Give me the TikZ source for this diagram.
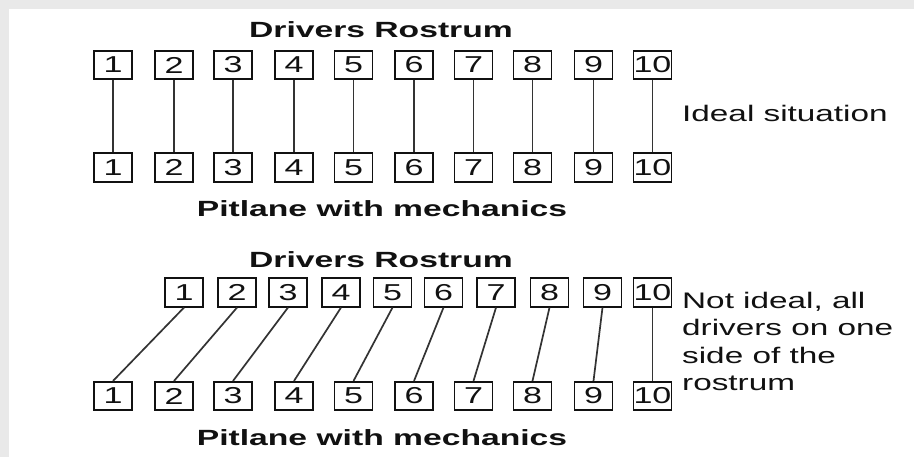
\documentclass[tikz,border=0pt]{standalone}
\usepackage{fontspec}
\setmainfont{Liberation Sans}
\usepackage{graphicx}
\definecolor{bggray}{HTML}{E9E9E9}
\definecolor{ink}{HTML}{111111}
\definecolor{linkgray}{HTML}{333333}
\newcommand{\Tx}[1]{\scalebox{1.48}[1]{#1}}
\newcommand{\Tb}[1]{\scalebox{1.53}[1]{#1}}
\tikzset{
  numbox/.style={draw=ink, line width=1.6pt, minimum width=38pt, minimum height=28.5pt,
    inner sep=0pt, text=ink, font=\fontsize{23}{27}\selectfont},
  link/.style={draw=linkgray, line width=1.7pt},
  title/.style={anchor=base, inner sep=0pt, text=ink, font=\fontsize{22}{27}\bfseries\selectfont},
  remark/.style={anchor=base west, inner sep=0pt, text=ink, font=\fontsize{22.5}{27.5}\selectfont}
}
\begin{document}
\begin{tikzpicture}[x=1pt,y=-1pt]
\useasboundingbox (0,0) rectangle (914,457);
\fill[bggray] (0,0) rectangle (914,457);
\fill[white] (9,9) rectangle (914,457);
% section 1
\node[title] (t1) at (381,38) {\Tb{Drivers Rostrum}};
\node[title] (p1) at (382,217) {\Tb{Pitlane with mechanics}};
\foreach \i/\x in {1/113,2/174,3/233,4/294,5/353.5,6/414,7/473.5,8/532.5,9/593.5,10/652.5}{
  \node[numbox] (a\i) at (\x,65) {\Tx{\i}};
  \node[numbox] (b\i) at (\x,167.5) {\Tx{\i}};
  \draw[link] (a\i.south) -- (b\i.north);
}
\node[remark] (r1) at (682,122) {\Tx{Ideal situation}};
% section 2
\node[title] (t2) at (381,268) {\Tb{Drivers Rostrum}};
\node[title] (p2) at (382,445) {\Tb{Pitlane with mechanics}};
\foreach \i/\x in {1/184,2/237,3/288,4/341,5/392.5,6/443.5,7/496,8/549.5,9/602.5,10/652.5}{
  \node[numbox] (c\i) at (\x,292.5) {\Tx{\i}};
}
\foreach \i/\x in {1/113,2/174,3/233,4/294,5/353.5,6/414,7/473.5,8/532.5,9/593.5,10/652.5}{
  \node[numbox] (d\i) at (\x,396) {\Tx{\i}};
  \draw[link] (c\i.south) -- (d\i.north);
}
\node[remark] (r2) at (682,308.3) {\Tx{\begin{tabular}[t]{@{}l@{}}Not ideal, all\\drivers on one\\side of the\\rostrum\end{tabular}}};
\end{tikzpicture}
\end{document}
